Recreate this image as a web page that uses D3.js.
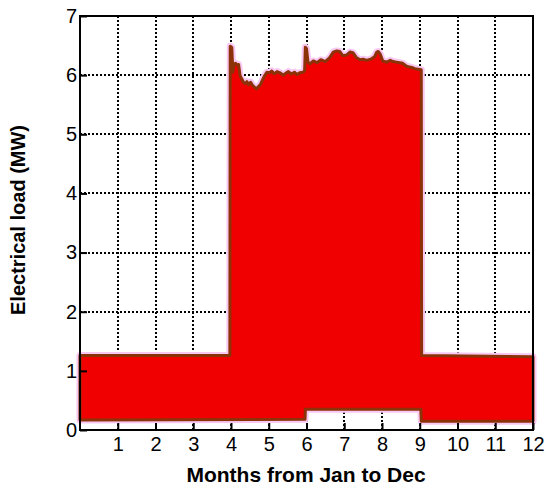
<!DOCTYPE html>
<html>
<head>
<meta charset="utf-8">
<script src="https://cdn.jsdelivr.net/npm/d3@7"></script>
<style>
  body { margin: 0; background: #fff; }
  svg { display: block; font-family: "Liberation Sans", Arial, sans-serif; }
  .tick text { font-size: 20px; fill: #000; }
  .axis-title { font-weight: bold; fill: #000; }
</style>
</head>
<body>
<svg id="chart" width="550" height="492"></svg>
<script>
// month ticks and load ticks
const monthTicks = [1, 2, 3, 4, 5, 6, 7, 8, 9, 10, 11, 12];
const loadTicks = [0, 1, 2, 3, 4, 5, 6, 7];

// upper envelope of the hourly load (month position, MW)
const upperMonth = [0, 3.97, 3.98, 4.02, 4.05, 4.08, 4.12, 4.16, 4.20, 4.24, 4.29, 4.33,
  4.38, 4.42, 4.47, 4.52, 4.57, 4.63, 4.68, 4.73, 4.78, 4.82, 4.88, 4.95, 5.02, 5.08,
  5.15, 5.22, 5.30, 5.38, 5.45, 5.52, 5.60, 5.68, 5.75, 5.82, 5.90, 5.95, 5.97, 6.00,
  6.04, 6.09, 6.18, 6.28, 6.38, 6.50, 6.62, 6.71, 6.80, 6.88, 6.96, 7.06, 7.15, 7.23,
  7.32, 7.42, 7.50, 7.59, 7.70, 7.80, 7.86, 7.90, 7.95, 8.02, 8.12, 8.22, 8.29, 8.38,
  8.47, 8.55, 8.65, 8.72, 8.79, 8.87, 8.95, 9.04, 9.05, 12];
const upperLoad = [1.26, 1.26, 6.49, 6.47, 6.05, 6.19, 6.20, 6.17, 6.18, 5.99, 5.93, 5.88,
  5.86, 5.89, 5.84, 5.88, 5.83, 5.79, 5.77, 5.81, 5.84, 5.90, 5.98, 6.05, 6.04, 6.07,
  6.02, 6.06, 6.04, 6.00, 6.03, 6.06, 6.02, 6.05, 6.01, 6.04, 6.05, 6.07, 6.47, 6.45,
  6.22, 6.19, 6.24, 6.21, 6.26, 6.23, 6.30, 6.39, 6.41, 6.40, 6.33, 6.34, 6.39, 6.38,
  6.30, 6.26, 6.27, 6.25, 6.27, 6.31, 6.39, 6.40, 6.36, 6.24, 6.22, 6.25, 6.23, 6.22,
  6.21, 6.20, 6.15, 6.14, 6.13, 6.11, 6.10, 6.09, 1.26, 1.24];

// lower envelope (month position, MW)
const lowerMonth = [12, 9.04, 9.03, 5.97, 5.96, 0];
const lowerLoad = [0.15, 0.15, 0.35, 0.35, 0.18, 0.17];

const svg = d3.select("#chart");
const x = d3.scaleLinear().domain([0, 12]).range([80, 533]);
const y = d3.scaleLinear().domain([0, 7]).range([430, 16]);

// dotted grid
const grid = svg.append("g").attr("stroke", "#000").attr("stroke-width", 2)
  .attr("stroke-dasharray", "2,2").attr("shape-rendering", "crispEdges");
grid.selectAll(".gx").data(monthTicks.slice(0, 11)).enter().append("line")
  .attr("x1", d => Math.round(x(d))).attr("x2", d => Math.round(x(d)))
  .attr("y1", y(0)).attr("y2", y(7));
grid.selectAll(".gy").data(loadTicks.slice(1, 7)).enter().append("line")
  .attr("x1", x(0)).attr("x2", x(12))
  .attr("y1", d => Math.round(y(d))).attr("y2", d => Math.round(y(d)));

// build the closed outline of the load band
const pts = [];
upperMonth.forEach((m, i) => pts.push([m, upperLoad[i]]));
lowerMonth.forEach((m, i) => pts.push([m, lowerLoad[i]]));
const line = d3.line().x(d => x(d[0])).y(d => y(d[1]));
const outline = line(pts) + "Z";

svg.append("path").attr("d", outline)
  .attr("fill", "none").attr("stroke", "#f9c8f2").attr("stroke-width", 7)
  .attr("stroke-linejoin", "round");
svg.append("path").attr("d", outline)
  .attr("fill", "#f00000").attr("stroke", "#8c3208").attr("stroke-width", 3)
  .attr("stroke-linejoin", "round");

// axes with inward ticks
const xAxis = d3.axisBottom(x).tickValues(monthTicks).tickSizeInner(-7)
  .tickSizeOuter(0).tickPadding(7).tickFormat(d3.format("d"));
const yAxis = d3.axisLeft(y).tickValues(loadTicks).tickSizeInner(-7)
  .tickSizeOuter(0).tickPadding(3).tickFormat(d3.format("d"));

const gx = svg.append("g").attr("transform", "translate(0," + y(0) + ")").call(xAxis);
const gy = svg.append("g").attr("transform", "translate(" + x(0) + ",0)").call(yAxis);
[gx, gy].forEach(g => {
  g.select(".domain").remove();
  g.selectAll(".tick line").attr("stroke", "#000").attr("stroke-width", 2);
  g.selectAll(".tick text").style("font-family", "'Liberation Sans', Arial, sans-serif");
});

// frame
svg.append("rect")
  .attr("x", x(0)).attr("y", y(7))
  .attr("width", x(12) - x(0)).attr("height", y(0) - y(7))
  .attr("fill", "none").attr("stroke", "#000").attr("stroke-width", 2);

svg.append("text").attr("class", "axis-title")
  .attr("x", 306).attr("y", 482).attr("text-anchor", "middle")
  .style("font-size", "21px")
  .text("Months from Jan to Dec");

svg.append("text").attr("class", "axis-title")
  .attr("transform", "translate(25,220) rotate(-90)")
  .attr("text-anchor", "middle")
  .style("font-size", "20px")
  .text("Electrical load (MW)");
</script>
</body>
</html>
